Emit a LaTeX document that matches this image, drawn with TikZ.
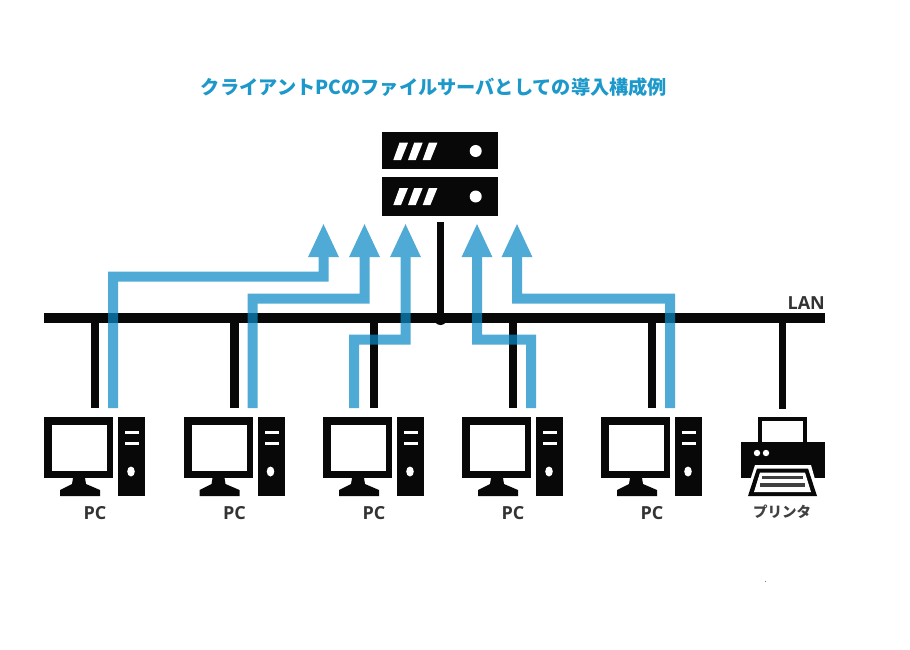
\documentclass[tikz,border=0pt]{standalone}
\usepackage{fontspec}
\setmainfont{Noto Sans CJK JP}
\newfontfamily\latinbold{Open Sans}[BoldFont={Open Sans Bold}]
\usetikzlibrary{arrows.meta}
\definecolor{flowblue}{RGB}{11,137,198}
\definecolor{titleblue}{RGB}{28,152,202}
\definecolor{inkblack}{RGB}{8,8,8}
\tikzset{
  inkfill/.style={fill=inkblack,draw=none},
  wire/.style={draw=inkblack,line width=8.5pt},
  buswire/.style={draw=inkblack,line width=10pt},
  flow/.style={draw=flowblue,line width=10pt,line join=miter,
    -{Triangle[width=28pt,length=34pt]}},
  srvbox/.style={inkfill,rectangle,inner sep=0pt,minimum width=116pt},
  lbl/.style={inner sep=0pt,text=black!80,font=\fontsize{18}{18}\selectfont\latinbold\bfseries},
}
\begin{document}
\begin{tikzpicture}[x=1pt,y=-1pt]
\useasboundingbox (0,0) rectangle (910,650);
% title
\node[inner sep=0pt,text=titleblue,font=\bfseries\fontsize{19.2}{20}\selectfont] (title) at (434,87) {クライアントPCのファイルサーバとしての導入構成例};
% server
\node[srvbox,minimum height=37.5pt] (srv1) at (439.7,150.5) {};
\node[srvbox,minimum height=39pt] (srv2) at (439.7,196.2) {};
\foreach \yt/\yb in {142.7/160,188/205}{
  \foreach \dx in {0,14.7,29.4}{
    \fill[white] (393.3+\dx,\yb) -- (401+\dx,\yb) -- (408+\dx,\yt) -- (399.5+\dx,\yt) -- cycle;
  }
}
\fill[white] (475.7,151) circle (6);
\fill[white] (475.7,196.5) circle (6);
% bus
\coordinate (busL) at (44,318);
\coordinate (busR) at (825,318);
\coordinate (hub) at (440.5,318.5);
\coordinate (srvdrop) at (440.5,222);
\draw[buswire] (busL) -- (busR);
\draw[wire,line width=7pt] (srvdrop) -- (hub);
\fill[inkblack] (hub) circle (6.5);
\node[lbl,anchor=east] (lan) at (825,303.5) {LAN};
% PCs
\foreach \i/\x in {1/44,2/183.5,3/323,4/462,5/601}{
  \begin{scope}[xshift=\x pt]
    \fill[inkblack] (0,417) rectangle (69,478);
    \fill[white] (8,425) rectangle (63,471);
    \fill[inkblack] (29,478) -- (41,478) -- (42,484) -- (56,490) -- (56,496) -- (16,496) -- (16,490) -- (28,484) -- cycle;
    \fill[inkblack] (74,417) rectangle (101,496);
    \fill[white] (81,431) rectangle (95,434);
    \fill[white] (81,442) rectangle (95,445);
    \fill[white] (87,471.5) ellipse (3.8 and 5);
    \coordinate (pc\i a) at (31,408);
    \coordinate (pc\i b) at (69,408);
    \coordinate (pc\i t) at (51,408);
    \node[lbl] (pc\i) at (51,513) {PC};
  \end{scope}
  \coordinate (bus\i) at (pc\i t |- busL);
  \draw[wire] (bus\i) -- (pc\i t);
}
% printer
\coordinate (prtop) at (782,409);
\coordinate (busP) at (prtop |- busL);
\draw[wire,line width=7pt] (busP) -- (prtop);
\draw[inkblack,line width=4pt] (760,442) -- (760,419) -- (805,419) -- (805,442);
\fill[inkblack] (741,442) rectangle (825,478);
\fill[white] (757,453) circle (3.2);
\fill[white] (766,453) circle (3.2);
\fill[white] (755,465) -- (811,465) -- (818,490) -- (747,490) -- cycle;
\fill[inkblack] (757,468.5) -- (808,468.5) -- (817,496) -- (748,496) -- cycle;
\fill[white] (760,472.5) -- (805,472.5) -- (811,492) -- (754,492) -- cycle;
\fill[black!75] (762,475.5) rectangle (803,479);
\fill[black!75] (760,483) rectangle (805,486.5);
\node[inner sep=0pt,text=black!75,font=\bfseries\fontsize{14.5}{15}\selectfont] (printer) at (782,512) {プリンタ};
% speck
\fill[black!55] (764.6,581.4) rectangle (765.6,582.4);
% flows
\coordinate (tip1) at (323.5,223);
\coordinate (tip2) at (364.5,223);
\coordinate (tip3) at (405.5,223);
\coordinate (tip4) at (477,223);
\coordinate (tip5) at (517,223);
\begin{scope}[transparency group,opacity=.72]
  \draw[flow] (pc1b) -- (pc1b |- 0,276.5) -| (tip1);
  \draw[flow] (pc2b) -- (pc2b |- 0,298.5) -| (tip2);
  \draw[flow] (pc3a) -- (pc3a |- 0,339.5) -| (tip3);
  \draw[flow] (pc4b) -- (pc4b |- 0,339.5) -| (tip4);
  \draw[flow] (pc5b) -- (pc5b |- 0,298.5) -| (tip5);
\end{scope}
\end{tikzpicture}
\end{document}
